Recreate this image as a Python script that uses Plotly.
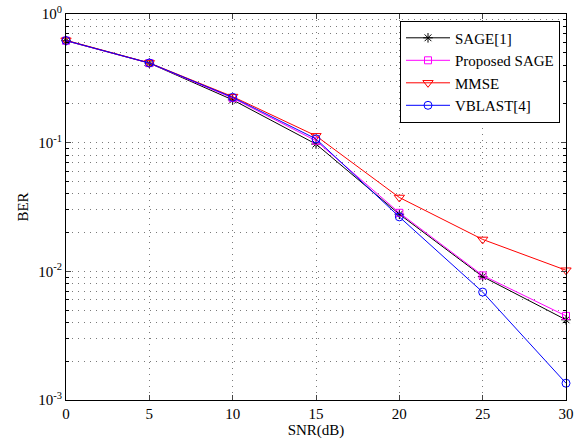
import plotly.graph_objects as go

snr = [0, 5, 10, 15, 20, 25, 30]
sage = [0.62, 0.415, 0.215, 0.0975, 0.0278, 0.0091, 0.0042]
proposed = [0.62, 0.415, 0.222, 0.1035, 0.0285, 0.0093, 0.0045]
mmse = [0.625, 0.417, 0.228, 0.113, 0.0375, 0.0177, 0.0102]
vblast = [0.622, 0.416, 0.225, 0.107, 0.0265, 0.0069, 0.00135]

names = ["SAGE[1]", "Proposed SAGE", "MMSE", "VBLAST[4]"]
ytickvals = [1e-3, 1e-2, 1e-1, 1]
yticktext = ["10<sup>-3</sup>", "10<sup>-2</sup>", "10<sup>-1</sup>", "10<sup>0</sup>"]
xtickvals = [0, 5, 10, 15, 20, 25, 30]

FONT = "Liberation Serif, Times New Roman, serif"
GRID = "#7a7a7a"
DASH = "1px,5px"

fig = go.Figure()
styles = [
    (sage, "#000000", "asterisk-open", 8),
    (proposed, "#FF00FF", "square-open", 7),
    (mmse, "#FF0000", "triangle-down-open", 9),
    (vblast, "#0000FF", "circle-open", 8),
]
for name, (vals, col, sym, sz) in zip(names, styles):
    fig.add_trace(go.Scatter(
        x=snr, y=vals, name=name, mode="lines+markers",
        line=dict(color=col, width=1),
        marker=dict(symbol=sym, size=sz, color=col, line=dict(color=col, width=1)),
        cliponaxis=False,
    ))

fig.update_layout(
    width=585, height=439,
    margin=dict(l=66, r=19, t=14, b=39),
    paper_bgcolor="white", plot_bgcolor="white",
    font=dict(family=FONT, size=15, color="black"),
    legend=dict(
        x=0.988, y=0.983, xanchor="right", yanchor="top",
        bgcolor="white", bordercolor="black", borderwidth=1,
        font=dict(family=FONT, size=15, color="black"),
        itemwidth=44, tracegroupgap=0,
    ),
    showlegend=True,
)
fig.update_xaxes(
    range=[0, 30], tickvals=xtickvals, ticks="inside", ticklen=5,
    showline=True, linecolor="black", linewidth=1, mirror="ticks",
    showgrid=True, gridcolor=GRID, griddash=DASH, gridwidth=1,
    zeroline=False, ticklabeloverflow="allow", automargin=False,
    title=dict(text="SNR(dB)", standoff=2, font=dict(family=FONT, size=15)),
)
fig.update_yaxes(
    type="log", range=[-3, 0], tickvals=ytickvals, ticktext=yticktext,
    ticks="inside", ticklen=5,
    showline=True, linecolor="black", linewidth=1, mirror="ticks",
    showgrid=True, gridcolor=GRID, griddash=DASH, gridwidth=1,
    zeroline=False, ticklabeloverflow="allow", automargin=False,
    minor=dict(dtick="D1", ticks="inside", ticklen=3, showgrid=True,
               gridcolor=GRID, griddash=DASH, gridwidth=1, tickcolor="black"),
    title=dict(text="BER", standoff=6, font=dict(family=FONT, size=15)),
)

fig.write_html("out.html", config={"displayModeBar": False},
               post_script="document.body.style.margin='0';")
